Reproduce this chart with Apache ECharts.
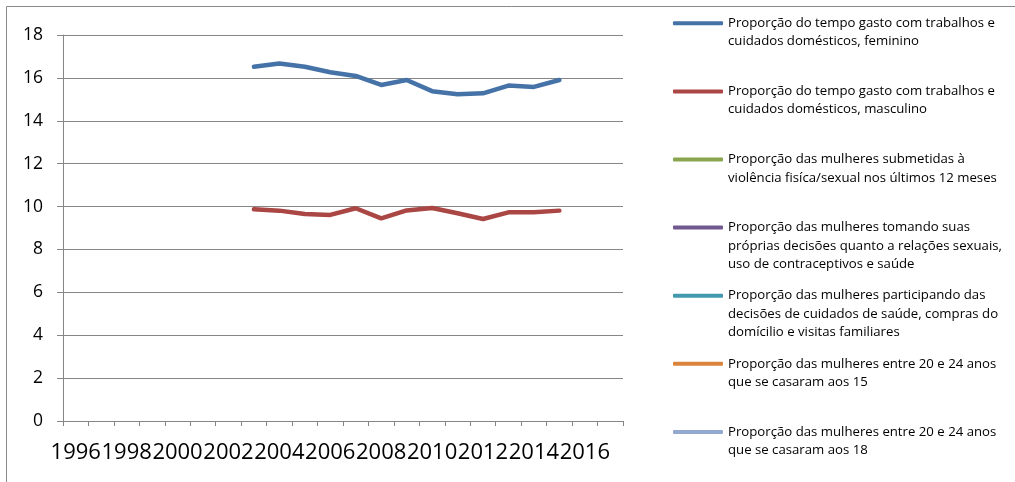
<!DOCTYPE html>
<html>
<head>
<meta charset="utf-8">
<script src="https://cdn.jsdelivr.net/npm/echarts@6/dist/echarts.min.js"></script>
<style>
html,body{margin:0;padding:0;background:#fff;}
#chart{width:1015px;height:482px;}
</style>
</head>
<body>
<div id="chart"></div>
<script>
const years = ['1996','1997','1998','1999','2000','2001','2002','2003','2004','2005','2006','2007','2008','2009','2010','2011','2012','2013','2014','2015','2016','2017'];
const yTicks = {min: 0, max: 18, interval: 2};

// Values 2003..2015
const femininoYears = ['2003','2004','2005','2006','2007','2008','2009','2010','2011','2012','2013','2014','2015'];
const femininoValues = [16.52, 16.67, 16.52, 16.26, 16.09, 15.67, 15.9, 15.38, 15.24, 15.28, 15.64, 15.58, 15.9];
const masculinoValues = [9.87, 9.81, 9.65, 9.61, 9.92, 9.45, 9.82, 9.93, 9.69, 9.42, 9.73, 9.73, 9.81];

const seriesNames = [
  ['Proporção do tempo gasto com trabalhos e', 'cuidados domésticos, feminino'],
  ['Proporção do tempo gasto com trabalhos e', 'cuidados domésticos, masculino'],
  ['Proporção das mulheres submetidas à', 'violência fisíca/sexual nos últimos 12 meses'],
  ['Proporção das mulheres tomando suas', 'próprias decisões quanto a relações sexuais,', 'uso de contraceptivos e saúde'],
  ['Proporção das mulheres participando das', 'decisões de cuidados de saúde, compras do', 'domícilio e visitas familiares'],
  ['Proporção das mulheres entre 20 e 24 anos', 'que se casaram aos 15'],
  ['Proporção das mulheres entre 20 e 24 anos', 'que se casaram aos 18']
];
const seriesColors = ['#4572A7', '#AA4643', '#89A54E', '#71588F', '#4198AF', '#DB843D', '#93A9CF'];
const seriesValues = [femininoValues, masculinoValues, [], [], [], [], []];

function toData(vals) {
  if (!vals.length) return [];
  return years.map(y => {
    const i = femininoYears.indexOf(y);
    return i >= 0 ? vals[i] : null;
  });
}

const FONT = 'Open Sans';
const LH = 18.3;
const legendX = 673;
const legendFirstY = 23.3;
const legendStep = 68.1;

const fullNames = seriesNames.map(l => l.join(' '));
const legends = seriesNames.map((lines, i) => {
  const total = 2 * lines.length - 1;
  return {
    orient: 'vertical',
    left: legendX,
    top: legendFirstY + legendStep * i - total * LH / 2,
    padding: 0,
    itemWidth: 50,
    itemHeight: 4,
    itemGap: 0,
    icon: 'roundRect',
    selectedMode: false,
    data: [fullNames[i]],
    formatter: () => '\n'.repeat(lines.length - 1) + lines.join('\n'),
    textStyle: {fontFamily: FONT, fontSize: 13.2, lineHeight: LH, color: '#000'}
  };
});

const chart = echarts.init(document.getElementById('chart'), null, {renderer: 'canvas'});
chart.setOption({
  animation: false,
  backgroundColor: '#fff',
  graphic: [{
    type: 'rect', shape: {x: 6.5, y: 6.5, width: 1200, height: 700},
    style: {fill: 'none', stroke: '#8a8a8a', lineWidth: 1}, silent: true, z: -10
  }],
  legend: legends,
  grid: {left: 63, right: 392, top: 35, bottom: 61, containLabel: false},
  xAxis: {
    type: 'category',
    data: years,
    boundaryGap: true,
    axisLine: {lineStyle: {color: '#868686', width: 1}},
    axisTick: {show: true, interval: 0, length: 5, lineStyle: {color: '#868686'}},
    axisLabel: {interval: 1, margin: 21, fontFamily: FONT, fontSize: 22, color: '#000'},
    splitLine: {show: false}
  },
  yAxis: {
    type: 'value',
    min: yTicks.min, max: yTicks.max, interval: yTicks.interval,
    axisLine: {show: true, lineStyle: {color: '#868686', width: 1}},
    axisTick: {show: true, length: 6, lineStyle: {color: '#868686'}},
    axisLabel: {margin: 20, fontFamily: FONT, fontSize: 17.5, color: '#000'},
    splitLine: {show: true, lineStyle: {color: '#868686', width: 1}}
  },
  series: fullNames.map((name, i) => ({
    name: name,
    type: 'line',
    data: toData(seriesValues[i]),
    color: seriesColors[i],
    symbol: 'none',
    connectNulls: false,
    lineStyle: {width: 4.5, color: seriesColors[i], cap: 'round', join: 'round'}
  }))
});
</script>
</body>
</html>
